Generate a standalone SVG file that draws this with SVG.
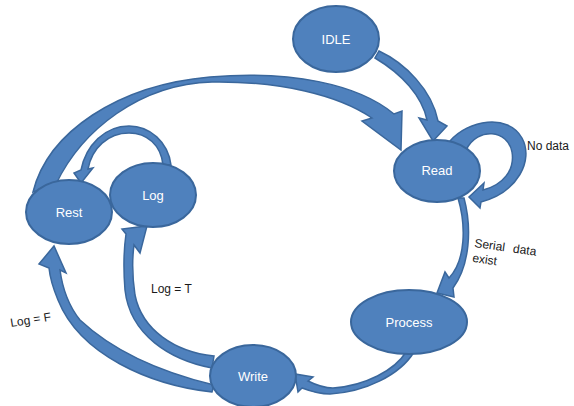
<svg xmlns="http://www.w3.org/2000/svg" width="574" height="406" viewBox="0 0 574 406">
<style>
.arr{fill:#4F81BD;stroke:#3A679C;stroke-width:1.5;stroke-linejoin:miter}
.node ellipse{fill:#4F81BD;stroke:#3A679C;stroke-width:2}
.node text{font-family:"Liberation Sans",Arial,sans-serif;font-size:13px;fill:#FFFFFF;text-anchor:middle}
.lbl{font-family:"Liberation Sans",Arial,sans-serif;font-size:12px;fill:#1A1A1A}
</style>
<rect width="574" height="406" fill="#FFFFFF"/>
<g id="connectors">
  <path id="rest-read" class="arr" d="M 33,192 C 48,132 118,85 210,77 C 290,70 358,84 394,114 L 402,111 L 401,150 L 362,121 L 372,118 C 338,95 280,81 212,82 C 140,84 82,130 56,184 Z"/>
  <path id="idle-read" class="arr" d="M 379,51 C 405,63 432,90 438,121 L 447,126 L 433,141 L 419,118 L 427,120 C 422,96 402,74 375,58 Z"/>
  <path id="read-read" class="arr" d="M 450,141 C 468,120 508,113 522,138 C 534,160 518,192 481,202 L 480,208 L 469,197 L 484,183 L 483,190 C 503,185 515,170 512,152 C 508,130 478,126 466,150 Z"/>
  <path id="log-rest" class="arr" d="M 171,165 C 168,142 150,126 129,126 C 105,126 86,145 81,170 L 74,173 L 81,183 L 93,168 L 88,169 C 92,148 108,133 129,133 C 147,133 161,145 163,165 Z"/>
  <path id="write-log" class="arr" d="M 212,368 C 170,360 130,335 125,290 C 123,265 124,248 126,234 L 122,229 L 147,226 L 140,253 L 134,245 C 132,260 132,275 135,295 C 142,330 175,352 214,356 Z"/>
  <path id="write-rest" class="arr" d="M 212,392 C 150,385 80,355 58,300 C 53,288 50,278 49,268 L 39,264 L 54,246 L 66,273 L 60,270 C 62,285 68,305 80,320 C 112,350 160,372 214,385 Z"/>
  <path id="process-write" class="arr" d="M 414,352 C 400,375 365,392 330,394 C 318,394 310,391 302,388 L 298,392 L 295,374 L 313,377 L 308,381 C 318,386 326,388 333,388 C 365,386 395,370 406,352 Z"/>
  <path id="read-process" class="arr" d="M 458,198 C 466,225 466,260 449,278 L 445,272 L 437,293 L 454,297 L 453,288 C 470,265 472,228 464,198 Z"/>
</g>
<g id="node-idle" class="node"><ellipse cx="336" cy="39" rx="43" ry="33"/><text x="336" y="44">IDLE</text></g>
<g id="node-read" class="node"><ellipse cx="437" cy="171" rx="43" ry="31"/><text x="437" y="175">Read</text></g>
<g id="node-rest" class="node"><ellipse cx="69" cy="212" rx="43" ry="32"/><text x="69" y="217">Rest</text></g>
<g id="node-log" class="node"><ellipse cx="153" cy="195" rx="43" ry="32"/><text x="153" y="200">Log</text></g>
<g id="node-write" class="node"><ellipse cx="253" cy="376" rx="43" ry="31"/><text x="253" y="381">Write</text></g>
<g id="node-process" class="node"><ellipse cx="409" cy="322" rx="58" ry="32"/><text x="409" y="327">Process</text></g>
<g id="labels">
  <text class="lbl" x="527" y="150">No data</text>
  <g transform="translate(474,247) rotate(8)">
    <text class="lbl" x="0" y="0">Serial</text>
    <text class="lbl" x="39" y="0">data</text>
    <text class="lbl" x="0" y="15">exist</text>
  </g>
  <text class="lbl" x="151" y="293">Log = T</text>
  <text class="lbl" transform="translate(11,327) rotate(-9)">Log = F</text>
</g>
</svg>
